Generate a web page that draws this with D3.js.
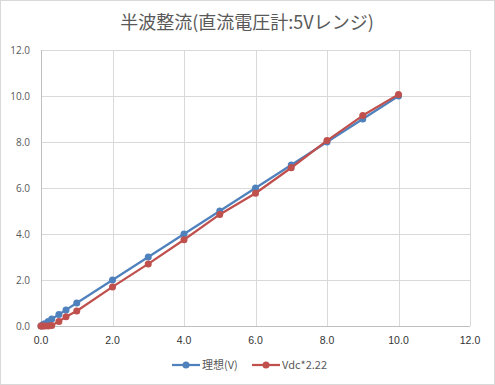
<!DOCTYPE html>
<html>
<head>
<meta charset="utf-8">
<script src="https://cdn.jsdelivr.net/npm/d3@7"></script>
<style>
  body { margin: 0; background: #fff; }
  svg { display: block; }
</style>
</head>
<body>
<svg id="chart"></svg>
<script>
const xValues = [0, 0.05, 0.1, 0.2, 0.3, 0.5, 0.7, 1, 2, 3, 4, 5, 6, 7, 8, 9, 10];
const idealValues = [0, 0.05, 0.1, 0.2, 0.3, 0.5, 0.7, 1, 2, 3, 4, 5, 6, 7, 8, 9, 10];
const vdcValues = [0, 0, 0, 0, 0.02, 0.2, 0.4, 0.65, 1.7, 2.7, 3.75, 4.85, 5.77, 6.88, 8.06, 9.15, 10.07];
const tickValues = [0, 2, 4, 6, 8, 10, 12];
const seriesNames = ["理想(V)", "Vdc*2.22"];
const colors = ["#4f81bd", "#c0504d"];

const width = 495, height = 385;
const margin = { top: 50, right: 25, bottom: 59, left: 41 };
const w = width - margin.left - margin.right;
const h = height - margin.top - margin.bottom;

const svg = d3.select("#chart").attr("width", width).attr("height", height);

svg.append("rect")
  .attr("x", 0.5).attr("y", 0.5)
  .attr("width", width - 1).attr("height", height - 1)
  .attr("fill", "#fff").attr("stroke", "#d9d9d9");

// Title
svg.append("text")
  .attr("x", 247).attr("y", 29)
  .attr("text-anchor", "middle")
  .style("font-family", "'Noto Sans CJK JP', sans-serif")
  .style("font-size", "18px")
  .style("fill", "#595959")
  .text("半波整流(直流電圧計:5Vレンジ)");

const x = d3.scaleLinear().domain([0, 12]).range([0, w]);
const y = d3.scaleLinear().domain([0, 12]).range([h, 0]);

const chart = svg.append("g").attr("transform", `translate(${margin.left},${margin.top})`);

// gridlines
chart.append("g")
  .selectAll("line.vg")
  .data(tickValues)
  .join("line")
  .attr("x1", d => Math.round(x(d)) + 0.5).attr("x2", d => Math.round(x(d)) + 0.5)
  .attr("y1", 0).attr("y2", h)
  .attr("stroke", "#d9d9d9");
chart.append("g")
  .selectAll("line.hg")
  .data(tickValues)
  .join("line")
  .attr("y1", d => Math.round(y(d)) + 0.5).attr("y2", d => Math.round(y(d)) + 0.5)
  .attr("x1", 0).attr("x2", w)
  .attr("stroke", "#d9d9d9");

// axis lines
chart.append("line")
  .attr("x1", 0.5).attr("x2", 0.5).attr("y1", 0).attr("y2", h)
  .attr("stroke", "#bfbfbf");
chart.append("line")
  .attr("x1", 0).attr("x2", w).attr("y1", Math.round(h) + 0.5).attr("y2", Math.round(h) + 0.5)
  .attr("stroke", "#bfbfbf");

// y labels
chart.append("g")
  .selectAll("text")
  .data(tickValues)
  .join("text")
  .attr("x", -11).attr("y", d => y(d) + 4)
  .attr("text-anchor", "end")
  .style("font-family", "'Open Sans', sans-serif")
  .style("font-size", "10px")
  .style("fill", "#595959")
  .text(d => d.toFixed(1));

// x labels
chart.append("g")
  .selectAll("text")
  .data(tickValues)
  .join("text")
  .attr("x", d => x(d)).attr("y", h + 18)
  .attr("text-anchor", "middle")
  .style("font-family", "'Liberation Sans', sans-serif")
  .style("font-size", "10.5px")
  .style("fill", "#333")
  .text(d => d.toFixed(1));

const series = [idealValues, vdcValues];
const line = d3.line().x((d, i) => x(xValues[i])).y(d => y(d));

series.forEach((vals, k) => {
  chart.append("path")
    .datum(vals)
    .attr("d", line)
    .attr("fill", "none")
    .attr("stroke", colors[k])
    .attr("stroke-width", 2.25)
    .attr("stroke-linejoin", "round");
  chart.append("g")
    .selectAll("circle")
    .data(vals)
    .join("circle")
    .attr("cx", (d, i) => x(xValues[i]))
    .attr("cy", d => y(d))
    .attr("r", 3.5)
    .attr("fill", colors[k]);
});

// legend
const legendX = [172, 252];
const legend = svg.append("g").attr("transform", "translate(0,365)");
seriesNames.forEach((name, k) => {
  const g = legend.append("g").attr("transform", `translate(${legendX[k]},0)`);
  g.append("line").attr("x1", 0).attr("x2", 28).attr("y1", 0).attr("y2", 0)
    .attr("stroke", colors[k]).attr("stroke-width", 2.25);
  g.append("circle").attr("cx", 14).attr("cy", 0).attr("r", 3.5).attr("fill", colors[k]);
  g.append("text").attr("x", 30).attr("y", 4)
    .style("font-family", "'Noto Sans CJK JP', sans-serif")
    .style("font-size", "11px")
    .style("fill", "#595959")
    .text(name);
});
</script>
</body>
</html>
